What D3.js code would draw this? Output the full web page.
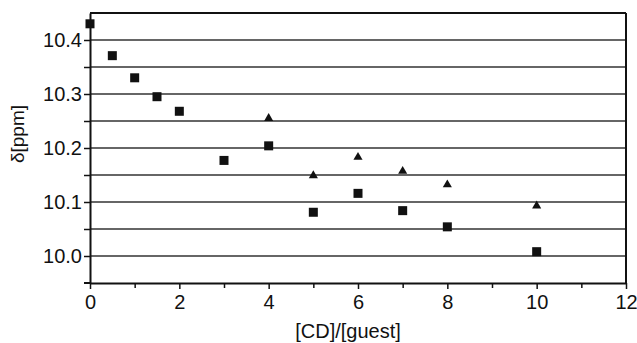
<!DOCTYPE html>
<html>
<head>
<meta charset="utf-8">
<script src="https://cdn.jsdelivr.net/npm/d3@7"></script>
<style>
  body { margin: 0; background: #fff; }
  text { font-family: "Liberation Sans", Arial, sans-serif; fill: #111; }
</style>
</head>
<body>
<div id="chart"></div>
<script>
// series 1: squares
var sq_x = [0, 0.5, 1, 1.5, 2, 3, 4, 5, 6, 7, 8, 10];
var sq_y = [10.430, 10.371, 10.330, 10.295, 10.268, 10.177, 10.204, 10.081, 10.116, 10.084, 10.054, 10.008];
// series 2: triangles
var tri_x = [4, 5, 6, 7, 8, 10];
var tri_y = [10.255, 10.149, 10.183, 10.157, 10.132, 10.093];

var x_ticks = [0, 2, 4, 6, 8, 10, 12];
var x_minor = [1, 3, 5, 7, 9, 11];
var y_ticks = [10.0, 10.1, 10.2, 10.3, 10.4];
var y_grid = [10.0, 10.05, 10.1, 10.15, 10.2, 10.25, 10.3, 10.35, 10.4];

var margin = {top: 13, right: 11, bottom: 60, left: 90},
    width = 637 - margin.left - margin.right,
    height = 343 - margin.top - margin.bottom;

var svg = d3.select("#chart")
    .append("svg")
    .attr("width", 637)
    .attr("height", 343)
    .append("g")
    .attr("transform", "translate(" + margin.left + "," + margin.top + ")");

var x = d3.scaleLinear().domain([0, 12]).range([0, width]);
var y = d3.scaleLinear().domain([9.95, 10.45]).range([height, 0]);

// gridlines
svg.selectAll(".grid")
    .data(y_grid)
    .enter()
    .append("line")
    .attr("x1", 0).attr("x2", width)
    .attr("y1", d => y(d)).attr("y2", d => y(d))
    .attr("stroke", "#333")
    .attr("stroke-width", 1.5);

// box top / right
svg.append("line").attr("x1", 0).attr("x2", width).attr("y1", 0).attr("y2", 0)
    .attr("stroke", "#111").attr("stroke-width", 2);
svg.append("line").attr("x1", width).attr("x2", width).attr("y1", 0).attr("y2", height)
    .attr("stroke", "#111").attr("stroke-width", 2);

// x axis
var xAxis = svg.append("g")
    .attr("transform", "translate(0," + height + ")")
    .call(d3.axisBottom(x).tickValues(x_ticks).tickSize(6).tickSizeOuter(0).tickFormat(d3.format("d")));
svg.append("g")
    .attr("transform", "translate(0," + height + ")")
    .call(d3.axisBottom(x).tickValues(x_minor).tickSize(5).tickSizeOuter(0).tickFormat(""))
    .select(".domain").remove();

// y axis
var yAxis = svg.append("g")
    .call(d3.axisLeft(y).tickValues(y_grid).tickSize(6).tickSizeOuter(0)
        .tickFormat(d => y_ticks.some(t => Math.abs(t - d) < 1e-9) ? d3.format(".1f")(d) : ""));
// extra tick at bottom end
svg.append("line").attr("x1", -6).attr("x2", 0).attr("y1", height).attr("y2", height)
    .attr("stroke", "#111").attr("stroke-width", 2);

svg.selectAll(".domain").attr("stroke", "#111").attr("stroke-width", 2);
svg.selectAll(".tick line").attr("stroke", "#111").attr("stroke-width", 1.5);
svg.selectAll(".tick text")
    .style("font-size", "20px")
    .style("font-family", "'Liberation Sans', Arial, sans-serif")
    .attr("fill", "#111");
xAxis.selectAll(".tick text").attr("dy", "0.71em").attr("y", 12);
yAxis.selectAll(".tick text").attr("x", -8);

// squares
svg.selectAll(".sq")
    .data(sq_x.map((d, i) => [d, sq_y[i]]))
    .enter()
    .append("rect")
    .attr("x", d => x(d[0]) - 4.5)
    .attr("y", d => y(d[1]) - 4.5)
    .attr("width", 9)
    .attr("height", 9)
    .attr("fill", "#111");

// triangles
var tri = d3.symbol().type(d3.symbolTriangle).size(36);
svg.selectAll(".tri")
    .data(tri_x.map((d, i) => [d, tri_y[i]]))
    .enter()
    .append("path")
    .attr("d", tri)
    .attr("transform", d => "translate(" + x(d[0]) + "," + y(d[1]) + ")")
    .attr("fill", "#111");

// axis titles
svg.append("text")
    .attr("x", 348 - margin.left)
    .attr("y", height + 55)
    .attr("text-anchor", "middle")
    .style("font-size", "20px")
    .text("[CD]/[guest]");

svg.append("text")
    .attr("transform", "translate(-66," + (134 - margin.top) + ") rotate(-90)")
    .attr("text-anchor", "middle")
    .style("font-size", "19px")
    .text("δ[ppm]");
</script>
</body>
</html>
